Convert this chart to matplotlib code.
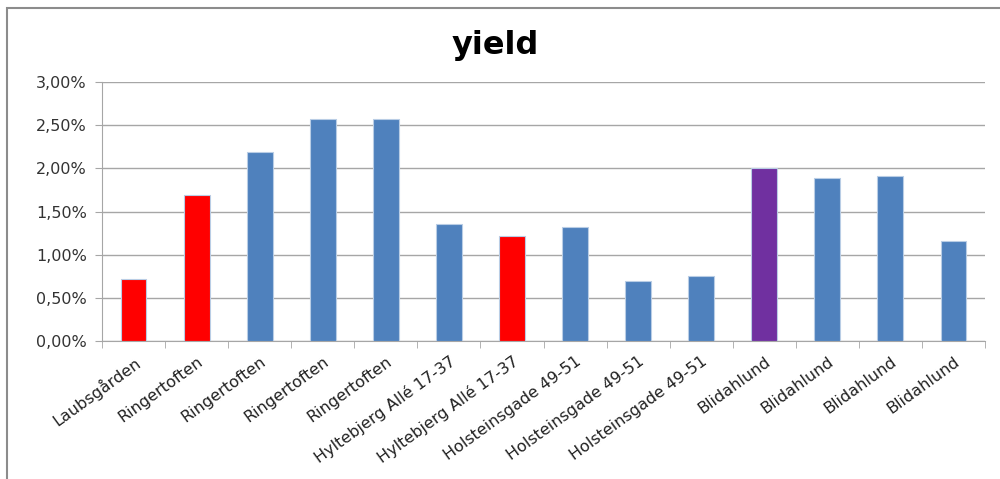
import matplotlib.pyplot as plt
import numpy as np
import matplotlib.ticker as mticker
from matplotlib.patches import Rectangle

# data
names = ['Laubsgården', 'Ringertoften', 'Ringertoften', 'Ringertoften', 'Ringertoften',
         'Hyltebjerg Allé 17-37', 'Hyltebjerg Allé 17-37', 'Holsteinsgade 49-51',
         'Holsteinsgade 49-51', 'Holsteinsgade 49-51', 'Blidahlund', 'Blidahlund',
         'Blidahlund', 'Blidahlund']
yields = [0.72, 1.69, 2.19, 2.57, 2.57, 1.35, 1.22, 1.32, 0.70, 0.75, 2.00, 1.89, 1.91, 1.16]
groups = ['red', 'red', 'blue', 'blue', 'blue', 'blue', 'red', 'blue', 'blue', 'blue',
          'purple', 'blue', 'blue', 'blue']
palette = {'blue': '#4F81BD', 'red': '#FF0000', 'purple': '#7030A0'}

fig = plt.figure(figsize=(10, 4.79), dpi=100)
ax = fig.add_axes([0.102, 1 - 341 / 479, 0.883, 259 / 479])

x = np.arange(len(names))
ax.bar(x, yields, width=0.41, color=[palette[g] for g in groups],
       edgecolor='#B9CDE5', linewidth=0.8, zorder=3)

ax.set_ylim(0, 3.0)
ax.set_xlim(-0.5, len(names) - 0.5)
ax.yaxis.set_major_locator(mticker.MultipleLocator(0.5))
ax.yaxis.set_major_formatter(mticker.FuncFormatter(lambda v, p: ('%.2f%%' % v).replace('.', ',')))
ax.grid(axis='y', color='#A6A6A6', linewidth=1, zorder=0)

ax.set_xticks(x)
ax.set_xticklabels(names, rotation=36, ha='right', rotation_mode='anchor', fontsize=11.5)
ax.set_xticks(np.arange(-0.5, len(names), 1), minor=True)
ax.tick_params(axis='x', which='major', length=0, pad=9)
ax.tick_params(axis='x', which='minor', length=5, color='#A6A6A6', direction='out')
ax.tick_params(axis='y', length=5, color='#A6A6A6', labelsize=11.5, labelcolor='#333333', pad=6)
for lab in ax.get_xticklabels():
    lab.set_color('#222222')
    lab.set_x(lab.get_position()[0])

for s in ['top', 'right']:
    ax.spines[s].set_visible(False)
for s in ['left', 'bottom']:
    ax.spines[s].set_color('#A6A6A6')

fig.text(0.495, 0.905, 'yield', ha='center', va='center', fontsize=23, fontweight='bold')

# chart frame (left and top edges visible in the original)
fig.patches.append(Rectangle((0.007, -0.1), 1.2, 1.083, transform=fig.transFigure,
                             fill=False, edgecolor='#8C8C8C', linewidth=1.5))

fig.savefig('out.png', dpi=100)
